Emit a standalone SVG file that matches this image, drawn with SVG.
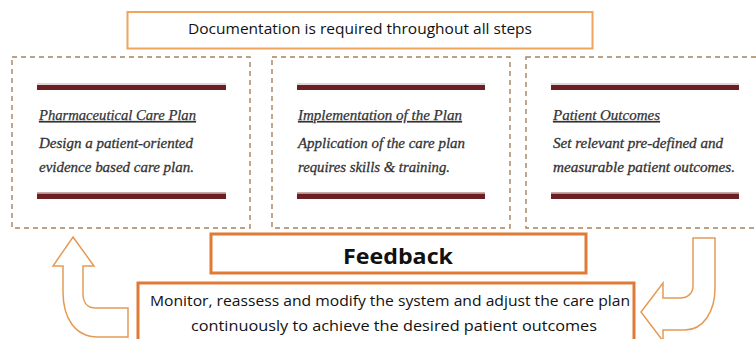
<svg xmlns="http://www.w3.org/2000/svg" width="756" height="339" viewBox="0 0 756 339">
<style>
.dash{fill:none;stroke:#a8825f;stroke-width:1.4;stroke-dasharray:5 4}
.bar{fill:#6b1f22}
.barline{stroke:#c9a9a9;stroke-width:1}
.ttl{font-family:"Liberation Serif",serif;font-style:italic;font-size:14.5px;fill:#333;stroke:#333;stroke-width:0.25;text-decoration:underline}
.body{font-family:"Liberation Serif",serif;font-style:italic;font-size:15px;fill:#333;stroke:#333;stroke-width:0.3}
.sans{font-family:"Open Sans","Liberation Sans",sans-serif;fill:#111}
.obox{fill:#fff;stroke:#e07b35;stroke-width:3}
.arrow{fill:#fff;stroke:#e59a55;stroke-width:1.5;stroke-linejoin:miter}
</style>
<rect width="756" height="339" fill="#fff"/>
<g id="doc">
<rect x="127.5" y="12" width="465" height="36.5" fill="#fff" stroke="#f0a45c" stroke-width="2"/>
<text class="sans" x="188" y="34" font-size="14.5" font-weight="500" textLength="344" lengthAdjust="spacingAndGlyphs">Documentation is required throughout all steps</text>
</g>
<g id="plan">
<rect class="dash" x="12" y="57" width="238" height="171"/>
<line class="barline" x1="37" y1="84" x2="226" y2="84"/>
<rect class="bar" x="37" y="85" width="189" height="5"/>
<text class="ttl" x="39" y="120" textLength="157" lengthAdjust="spacingAndGlyphs">Pharmaceutical Care Plan</text>
<text class="body" x="39" y="148" textLength="154" lengthAdjust="spacingAndGlyphs">Design a patient-oriented</text>
<text class="body" x="39" y="172" textLength="155" lengthAdjust="spacingAndGlyphs">evidence based care plan.</text>
<line class="barline" x1="37" y1="192.5" x2="226" y2="192.5"/>
<rect class="bar" x="37" y="193.5" width="189" height="5.5"/>
</g>
<g id="implementation">
<rect class="dash" x="272" y="57" width="238" height="171"/>
<line class="barline" x1="297" y1="84" x2="485" y2="84"/>
<rect class="bar" x="297" y="85" width="188" height="5"/>
<text class="ttl" x="298" y="120" textLength="164" lengthAdjust="spacingAndGlyphs">Implementation of the Plan</text>
<text class="body" x="298" y="148" textLength="167" lengthAdjust="spacingAndGlyphs">Application of the care plan</text>
<text class="body" x="298" y="172" textLength="152" lengthAdjust="spacingAndGlyphs">requires skills &amp; training.</text>
<line class="barline" x1="297" y1="192.5" x2="485" y2="192.5"/>
<rect class="bar" x="297" y="193.5" width="188" height="5.5"/>
</g>
<g id="outcomes">
<rect class="dash" x="526" y="57" width="240" height="171"/>
<line class="barline" x1="551" y1="84" x2="739" y2="84"/>
<rect class="bar" x="551" y="85" width="188" height="5"/>
<text class="ttl" x="553" y="120" textLength="107" lengthAdjust="spacingAndGlyphs">Patient Outcomes</text>
<text class="body" x="553" y="148" textLength="170" lengthAdjust="spacingAndGlyphs">Set relevant pre-defined and</text>
<text class="body" x="553" y="172" textLength="182" lengthAdjust="spacingAndGlyphs">measurable patient outcomes.</text>
<line class="barline" x1="551" y1="192.5" x2="739" y2="192.5"/>
<rect class="bar" x="551" y="193.5" width="188" height="5.5"/>
</g>
<g id="feedback">
<rect class="obox" x="211" y="234" width="375" height="39"/>
<text class="sans" x="343" y="264" font-size="22" font-weight="bold" textLength="110" lengthAdjust="spacingAndGlyphs">Feedback</text>
</g>
<g id="monitor">
<rect class="obox" x="138" y="283" width="496" height="70"/>
<text class="sans" x="150" y="306" font-size="14.5" textLength="480" lengthAdjust="spacingAndGlyphs">Monitor, reassess and modify the system and adjust the care plan</text>
<text class="sans" x="191" y="331" font-size="14.5" textLength="406" lengthAdjust="spacingAndGlyphs">continuously to achieve the desired patient outcomes</text>
</g>
<g id="connectors">
<path class="arrow" d="M73,237 L94,266 L83,266 L83,294 C83,303 88,308 96,308 L128,308 L128,337 L98,337 C75,337 63,318 63,292 L63,266 L53,266 Z"/>
<path class="arrow" d="M693,238 L715,238 L715,288 C715,312 703,330 685,330 L663,330 L663,341 L641,312 L663,283 L663,298 L680,298 C688,298 693,293 693,286 Z"/>
</g>
</svg>
